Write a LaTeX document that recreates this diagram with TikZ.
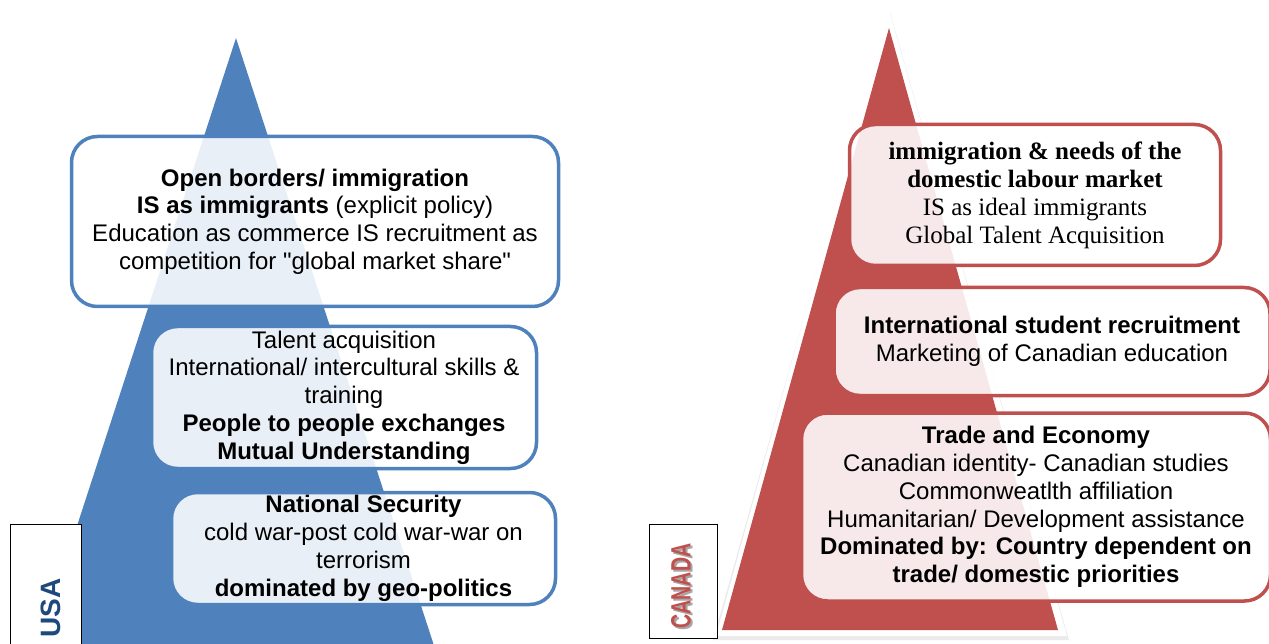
\documentclass[tikz,border=0pt]{standalone}
\usepackage{fontspec}
\setmainfont{Liberation Sans}
\newfontfamily\serifish{Liberation Serif}
\definecolor{usablue}{RGB}{79,129,189}
\definecolor{usadark}{RGB}{31,73,125}
\definecolor{canred}{RGB}{192,80,77}

\begin{document}
\begin{tikzpicture}[x=1pt, y=-1pt,
    usabox/.style={draw=usablue, line width=3.5pt, fill=white, fill opacity=0.88, text opacity=1,
      rounded corners=26pt, align=center, inner sep=0pt, font=\fontsize{24}{27.8}\selectfont},
    canbox/.style={usabox, draw=canred},
    flagbox/.style={draw=black, line width=0.8pt, fill=white, minimum width=70pt, inner sep=0pt},
    flagtext/.style={rotate=90, font=\fontsize{28}{28}\bfseries, inner sep=0pt}]
  \useasboundingbox (0,0) rectangle (1269,644);
  \clip (0,0) rectangle (1269,644);

  % pyramids
  \fill[usablue] (236,38) -- (440,664) -- (32,664) -- cycle;
  \fill[black!20, opacity=0.4] (890,12) -- (1069,640) -- (713,640) -- cycle;
  \fill[white] (889,10) -- (1067,636) -- (716,636) -- cycle;
  \fill[canred] (889,28) -- (1058,630) -- (722,630) -- cycle;

  % country tags
  \node[flagbox, minimum width=71pt, minimum height=140pt] (usatag) at (45.5,594) {};
  \node[flagtext, text=usadark] (usa) at (51,608) {USA};
  \node[flagbox, minimum width=68pt, minimum height=114pt] (cantag) at (683.5,581) {};
  \node[flagtext, text=black!35] (canshadow) at (683,588) {\scalebox{0.7}[1]{CANADA}};
  \node[flagtext, text=canred] (canada) at (681,586) {\scalebox{0.7}[1]{CANADA}};

  % USA levels
  \node[usabox, minimum width=487pt, minimum height=170pt] (usatop) at (315,221.5)
    {\textbf{Open borders/ immigration}\\
     \textbf{IS as immigrants} (explicit policy)\\
     Education as commerce IS recruitment as\\
     competition for \textquotedbl global market share\textquotedbl};
  \node[usabox, minimum width=385pt, minimum height=142pt] (usamid) at (344,397.5)
    {Talent acquisition\\
     International/ intercultural skills \&\\
     training\\
     \textbf{People to people exchanges}\\
     \textbf{Mutual Understanding}};
  \node[usabox, minimum width=384pt, minimum height=112pt] (usalow) at (363.5,548.5)
    {\textbf{National Security}\\
     cold war-post cold war-war on\\
     terrorism\\
     \textbf{dominated by geo-politics}};

  % Canada levels
  \node[canbox, minimum width=371pt, minimum height=141pt,
        font=\serifish\fontsize{25}{28}\selectfont] (cantop) at (1035,195)
    {\textbf{immigration \& needs of the}\\
     \textbf{domestic labour market}\\
     IS as ideal immigrants\\
     Global Talent Acquisition};
  \node[canbox, minimum width=436pt, minimum height=108pt] (canmid) at (1052,341.5)
    {\textbf{International student recruitment}\\
     Marketing of Canadian education};
  \node[canbox, minimum width=469pt, minimum height=188pt] (canlow) at (1036,507)
    {\textbf{Trade and Economy}\\
     Canadian identity- Canadian studies\\
     Commonweatlth affiliation\\
     Humanitarian/ Development assistance\\
     \textbf{Dominated by: Country dependent on}\\
     \textbf{trade/ domestic priorities}};
\end{tikzpicture}
\end{document}
